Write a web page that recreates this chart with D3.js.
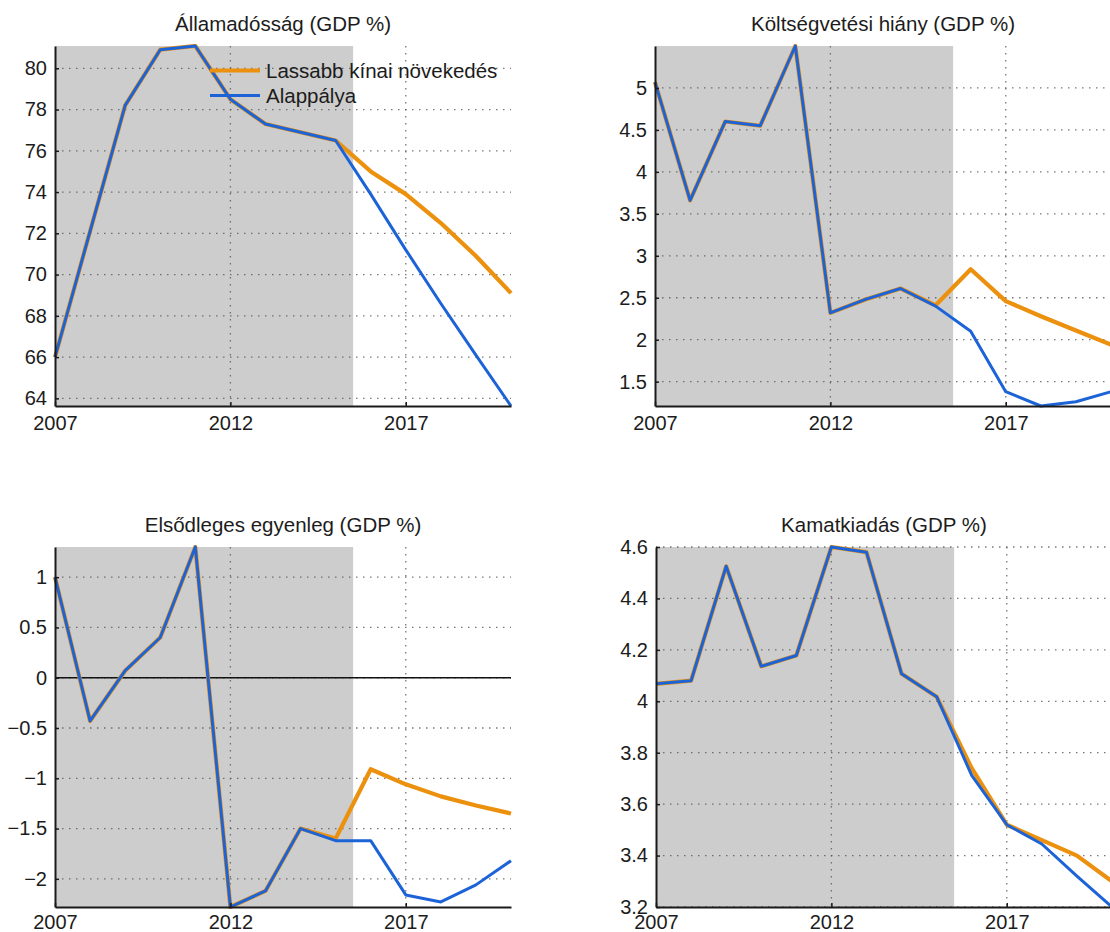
<!DOCTYPE html>
<html>
<head>
<meta charset="utf-8">
<script src="https://cdn.jsdelivr.net/npm/d3@7"></script>
<style>
  html, body { margin: 0; padding: 0; background: #fff; }
  svg { display: block; }
  text { font-family: "Liberation Sans", Arial, Helvetica, sans-serif; fill: #1c1c1c; }
</style>
</head>
<body>
<svg id="chart" width="1110" height="932"></svg>
<script>
// Years on the horizontal axis
const years = [2007, 2008, 2009, 2010, 2011, 2012, 2013, 2014, 2015, 2016, 2017, 2018, 2019, 2020];
const xTicks = [2007, 2012, 2017];
const historyEnd = 2015.5;

// Series names
const seriesNames = ["Lassabb kínai növekedés", "Alappálya"];

// Államadósság (GDP %)
const debtChina = [66.0, 72.1, 78.2, 80.9, 81.08, 78.5, 77.3, 76.9, 76.5, 75.0, 73.9, 72.5, 70.9, 69.1];
const debtBase  = [66.0, 72.1, 78.2, 80.9, 81.08, 78.5, 77.3, 76.9, 76.5, 73.9, 71.2, 68.6, 66.1, 63.63];
const debtTicks = [64, 66, 68, 70, 72, 74, 76, 78, 80];

// Költségvetési hiány (GDP %)
const deficitChina = [5.07, 3.66, 4.6, 4.55, 5.5, 2.32, 2.48, 2.61, 2.41, 2.84, 2.46, 2.28, 2.11, 1.94];
const deficitBase  = [5.07, 3.66, 4.6, 4.55, 5.5, 2.32, 2.48, 2.61, 2.40, 2.10, 1.38, 1.21, 1.26, 1.38];
const deficitTicks = [1.5, 2, 2.5, 3, 3.5, 4, 4.5, 5];

// Elsődleges egyenleg (GDP %)
const primaryChina = [1.0, -0.43, 0.07, 0.40, 1.30, -2.28, -2.12, -1.50, -1.60, -0.91, -1.06, -1.18, -1.27, -1.35];
const primaryBase  = [1.0, -0.43, 0.07, 0.40, 1.30, -2.28, -2.12, -1.50, -1.62, -1.62, -2.16, -2.23, -2.06, -1.82];
const primaryTicks = [-2, -1.5, -1, -0.5, 0, 0.5, 1];

// Kamatkiadás (GDP %)
const interestChina = [4.068, 4.08, 4.525, 4.136, 4.178, 4.6, 4.58, 4.107, 4.018, 3.74, 3.52, 3.46, 3.40, 3.30];
const interestBase  = [4.068, 4.08, 4.525, 4.136, 4.178, 4.6, 4.58, 4.107, 4.018, 3.712, 3.52, 3.445, 3.32, 3.2];
const interestTicks = [3.2, 3.4, 3.6, 3.8, 4, 4.2, 4.4, 4.6];

const colorChina = "#ec910e";
const colorBase = "#1d63d8";

const svg = d3.select("#chart");
const W = 456, H = 360;

const fmt = v => (v < 0 ? "\u2212" : "") + d3.format("~g")(Math.abs(v));

function drawPanel(opts) {
  const g = svg.append("g").attr("transform", `translate(${opts.x0},${opts.y0})`);
  const x = d3.scaleLinear().domain([years[0], years[years.length - 1]]).range([0, W]);
  const all = opts.china.concat(opts.base);
  const y = d3.scaleLinear().domain(d3.extent(all)).range([H, 0]);

  // title
  g.append("text")
    .attr("x", W / 2).attr("y", -15)
    .attr("text-anchor", "middle")
    .style("font-size", "20.5px")
    .text(opts.title);

  // shaded historical period
  g.append("rect")
    .attr("x", 0).attr("y", 0)
    .attr("width", x(historyEnd)).attr("height", H)
    .attr("fill", "#cdcdcd");

  // dotted grid
  const grid = g.append("g")
    .attr("stroke", "#555")
    .attr("stroke-opacity", 0.8)
    .attr("stroke-width", 1.3)
    .attr("stroke-dasharray", "1.5,5.5");
  grid.selectAll("line.h").data(opts.ticks).join("line")
    .attr("class", "h")
    .attr("x1", 0).attr("x2", W)
    .attr("y1", d => y(d)).attr("y2", d => y(d));
  grid.selectAll("line.v").data(xTicks.slice(1)).join("line")
    .attr("class", "v")
    .attr("x1", d => x(d)).attr("x2", d => x(d))
    .attr("y1", 0).attr("y2", H);

  // zero line
  if (opts.zeroLine) {
    g.append("line")
      .attr("x1", 0).attr("x2", W)
      .attr("y1", y(0)).attr("y2", y(0))
      .attr("stroke", "#111").attr("stroke-width", 1.5);
  }

  // series
  const line = d3.line().x((d, i) => x(years[i])).y(d => y(d));
  const clipId = "clip" + opts.id;
  g.append("clipPath").attr("id", clipId)
    .append("rect").attr("x", -2).attr("y", -2).attr("width", W + 4).attr("height", H + 4);
  const lines = g.append("g").attr("clip-path", `url(#${clipId})`);
  lines.append("path").datum(opts.china)
    .attr("d", line).attr("fill", "none")
    .attr("stroke", colorChina).attr("stroke-width", 4.2)
    .attr("stroke-linejoin", "round");
  lines.append("path").datum(opts.base)
    .attr("d", line).attr("fill", "none")
    .attr("stroke", colorBase).attr("stroke-width", 3)
    .attr("stroke-linejoin", "round");

  // axes
  const yAxis = d3.axisLeft(y).tickValues(opts.ticks).tickFormat(fmt).tickSizeInner(-4).tickSizeOuter(0).tickPadding(8);
  const xAxis = d3.axisBottom(x).tickValues(xTicks).tickFormat(d3.format("d")).tickSizeInner(-4).tickSizeOuter(0).tickPadding(opts.xPad);

  const ya = g.append("g").call(yAxis);
  ya.select(".domain").attr("stroke", "#1a1a1a").attr("stroke-width", 2);
  ya.selectAll(".tick line").attr("stroke", "#1a1a1a").attr("stroke-width", 1.5);
  ya.selectAll(".tick text").style("font-size", "20px").attr("fill", "#1c1c1c").attr("font-family", null);

  const xa = g.append("g").attr("transform", `translate(0,${H})`).call(xAxis);
  xa.select(".domain").attr("stroke", "#1a1a1a").attr("stroke-width", 2);
  xa.selectAll(".tick line").attr("stroke", "#1a1a1a").attr("stroke-width", 1.5);
  xa.selectAll(".tick text").style("font-size", "20px").attr("fill", "#1c1c1c").attr("font-family", null);

  // legend
  if (opts.legend) {
    const lg = g.append("g").attr("transform", "translate(155,24.5)");
    const colors = [colorChina, colorBase];
    const widths = [4.2, 3];
    seriesNames.forEach((name, i) => {
      const row = lg.append("g").attr("transform", `translate(0,${i * 25})`);
      row.append("line").attr("x1", 0).attr("x2", 50).attr("y1", 0).attr("y2", 0)
        .attr("stroke", colors[i]).attr("stroke-width", widths[i]);
      row.append("text").attr("x", 56).attr("y", 0).attr("dy", "0.35em")
        .style("font-size", "20.5px").text(name);
    });
  }
}

drawPanel({ id: 1, x0: 55,  y0: 46,  xPad: 10, title: "Államadósság (GDP %)", china: debtChina, base: debtBase, ticks: debtTicks, legend: true });
drawPanel({ id: 2, x0: 655, y0: 46,  xPad: 10, title: "Költségvetési hiány (GDP %)", china: deficitChina, base: deficitBase, ticks: deficitTicks });
drawPanel({ id: 3, x0: 55,  y0: 547, xPad: 8,  title: "Elsődleges egyenleg (GDP %)", china: primaryChina, base: primaryBase, ticks: primaryTicks, zeroLine: true });
drawPanel({ id: 4, x0: 656, y0: 547, xPad: 8,  title: "Kamatkiadás (GDP %)", china: interestChina, base: interestBase, ticks: interestTicks });
</script>
</body>
</html>
